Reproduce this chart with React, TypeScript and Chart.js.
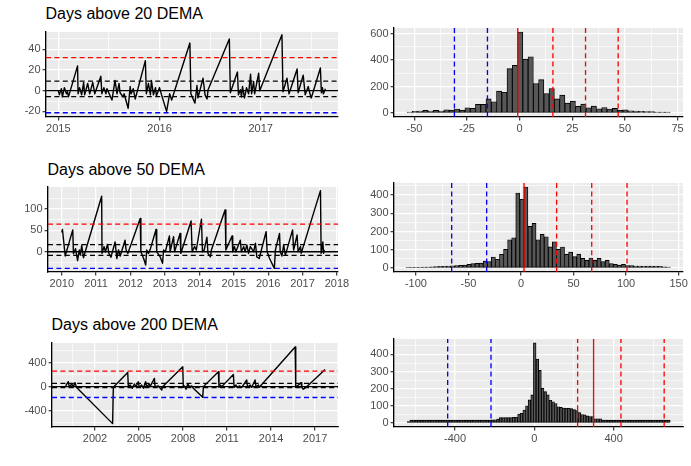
import { useEffect, useRef } from 'react';
import { Chart, registerables } from 'chart.js';

Chart.register(...registerables);

// ---------- Days above 20 DEMA (time series) ----------
const dema20Dates = [2015.00, 2015.01, 2015.03, 2015.04, 2015.06, 2015.08, 2015.09, 2015.10, 2015.19, 2015.195, 2015.21, 2015.23, 2015.25, 2015.26, 2015.29, 2015.31, 2015.34, 2015.36, 2015.42, 2015.43, 2015.45, 2015.47, 2015.48, 2015.53, 2015.56, 2015.58, 2015.60, 2015.61, 2015.64, 2015.65, 2015.69, 2015.71, 2015.72, 2015.74, 2015.76, 2015.86, 2015.87, 2015.89, 2015.91, 2015.92, 2015.94, 2015.96, 2015.97, 2016.00, 2016.02, 2016.07, 2016.10, 2016.12, 2016.30, 2016.31, 2016.35, 2016.37, 2016.38, 2016.43, 2016.45, 2016.47, 2016.48, 2016.69, 2016.70, 2016.77, 2016.78, 2016.80, 2016.81, 2016.82, 2016.84, 2016.86, 2016.88, 2016.90, 2016.91, 2016.93, 2016.94, 2016.98, 2016.99, 2017.21, 2017.22, 2017.26, 2017.28, 2017.36, 2017.37, 2017.42, 2017.44, 2017.47, 2017.49, 2017.50, 2017.59, 2017.60, 2017.61, 2017.62, 2017.64];
const dema20Values = [0, -4, 2, -6, 3, -3, -1, -6, 24, -3, 3, -4, 8, -4, 7, -3, 8, -3, 14, -3, 3, -3, 2, -9, 10, -3, 7, -2, -6, -3, -17, 4, -3, 2, -8, 29, -3, 7, -4, 10, -4, 3, -5, 3, -4, -20, -3, -9, 46, -3, -12, 5, -7, 12, -4, -8, 1, 50, -2, 18, -4, 1, -6, 4, -7, 3, -3, 16, -3, 9, -3, 17, 0, 54, -1, 12, -3, 21, -2, 15, -4, 4, -4, -7, 22, -2, 3, -3, 2];
const dema20RedLevels = [32];
const dema20BlackLevels = [9.3, -5.8];
const dema20BlueLevels = [-21.3];

// ---------- Days above 50 DEMA (time series) ----------
const dema50Dates = [2010.00, 2010.02, 2010.10, 2010.32, 2010.34, 2010.40, 2010.46, 2010.51, 2010.54, 2010.58, 2010.63, 2011.16, 2011.17, 2011.23, 2011.27, 2011.33, 2011.37, 2011.43, 2011.55, 2011.60, 2011.65, 2011.70, 2011.84, 2011.87, 2011.92, 2012.28, 2012.30, 2012.38, 2012.44, 2012.47, 2012.52, 2012.57, 2012.74, 2012.76, 2012.86, 2012.93, 2012.96, 2013.01, 2013.13, 2013.15, 2013.25, 2013.28, 2013.44, 2013.46, 2013.76, 2013.79, 2013.86, 2013.91, 2014.06, 2014.09, 2014.14, 2014.22, 2014.25, 2014.32, 2014.35, 2014.75, 2014.77, 2014.95, 2014.97, 2015.02, 2015.06, 2015.19, 2015.22, 2015.29, 2015.33, 2015.38, 2015.43, 2015.48, 2015.58, 2015.63, 2015.67, 2015.74, 2015.94, 2015.97, 2016.04, 2016.18, 2016.21, 2016.33, 2016.35, 2016.40, 2016.45, 2016.50, 2016.71, 2016.74, 2016.84, 2016.87, 2016.94, 2016.96, 2017.52, 2017.54, 2017.59, 2017.61, 2017.63];
const dema50Values = [45, 52, -10, 51, -5, 7, -21, 4, -8, 15, -14, 130, -4, 12, 0, 17, -4, -13, 23, -16, 4, -10, 27, 4, -4, 78, 0, -16, -31, 4, -4, 5, 52, 0, -12, -27, 4, 0, 37, 0, 35, 0, 43, -4, 72, 0, 12, 4, 76, 0, 4, 34, -4, -12, 4, 98, 4, 37, 0, 12, 0, 27, 0, 12, 0, 16, -4, 12, 0, 20, -12, -16, 47, 0, -16, -39, 4, 43, 0, -10, 16, -8, 51, 4, 39, 0, 12, -4, 143, -4, 23, -4, 5];
const dema50RedLevels = [64.5];
const dema50BlackLevels = [16.4, -8.6];
const dema50BlueLevels = [-39];

// ---------- Days above 200 DEMA (time series) ----------
const dema200Dates = [2000.00, 2000.18, 2000.25, 2000.41, 2000.52, 2000.64, 2000.73, 2003.20, 2003.25, 2004.23, 2004.27, 2004.39, 2004.55, 2004.68, 2004.80, 2004.95, 2005.02, 2005.18, 2005.30, 2005.45, 2005.52, 2005.70, 2005.75, 2006.05, 2006.09, 2006.32, 2006.55, 2006.61, 2007.98, 2008.02, 2008.09, 2008.20, 2008.32, 2008.43, 2008.59, 2008.70, 2009.34, 2009.39, 2010.41, 2010.45, 2010.52, 2010.64, 2011.43, 2011.48, 2011.61, 2011.70, 2011.84, 2012.00, 2012.34, 2012.39, 2012.57, 2012.68, 2012.91, 2012.98, 2013.14, 2013.20, 2015.64, 2015.68, 2015.86, 2016.05, 2016.09, 2016.20, 2016.39, 2016.48, 2017.68];
const dema200Values = [11, 82, -11, 44, 0, 66, -11, -614, -11, 236, 11, 27, -27, 44, 0, 82, -11, 27, -27, 82, 0, 44, 0, 137, 0, 11, -55, 0, 329, -11, 11, -44, 44, 0, 11, -27, -175, 0, 247, -11, 27, 0, 203, -11, 27, -11, 11, -11, 110, -11, 27, -11, 110, -11, 27, -11, 658, -11, 27, 66, -11, -44, -11, 11, 285];
const dema200RedLevels = [258];
const dema200BlackLevels = [55, -16];
const dema200BlueLevels = [-181];

// ---------- Histograms ----------
const hist20BinStart = -53.5;
const hist20BinWidth = 2.5;
const hist20Counts = [8, 12, 15, 20, 15, 20, 15, 25, 22, 30, 22, 40, 35, 65, 65, 107, 85, 165, 157, 335, 360, 612, 407, 425, 222, 252, 147, 185, 107, 135, 75, 90, 50, 67, 40, 52, 32, 42, 30, 35, 22, 25, 17, 15, 12, 10, 10, 8, 8, 8];
const hist20BlueLines = [-31, -15.3];
const hist20RedDashed = [15.8, 31.3, 46.8];
const hist20RedSolid = [-0.9];

const hist50BinStart = -109.5;
const hist50BinWidth = 3.87;
const hist50Counts = [3, 4, 4, 4, 5, 5, 7, 8, 9, 9, 11, 12, 13, 14, 16, 20, 24, 25, 27, 38, 35, 60, 48, 75, 102, 155, 166, 411, 377, 444, 228, 245, 155, 184, 171, 116, 144, 102, 115, 75, 87, 62, 76, 53, 42, 55, 42, 53, 35, 42, 24, 20, 16, 20, 13, 13, 11, 11, 9, 11, 11, 9, 9, 7, 5];
const hist50BlueLines = [-66, -32.7];
const hist50RedDashed = [33.9, 67.3, 100.9];
const hist50RedSolid = [2.9];

const hist200BinStart = -641.4;
const hist200BinWidth = 13.27;
const hist200Counts = [8, 17, 17, 17, 17, 17, 17, 17, 17, 17, 17, 17, 17, 17, 17, 17, 17, 17, 17, 17, 17, 17, 17, 17, 17, 17, 17, 17, 17, 17, 17, 17, 19, 19, 23, 32, 32, 32, 32, 32, 34, 34, 53, 57, 76, 101, 135, 164, 467, 373, 307, 202, 183, 164, 133, 124, 114, 95, 91, 88, 86, 86, 84, 78, 72, 61, 50, 48, 42, 38, 38, 25, 25, 25, 17, 17, 17, 17, 17, 17, 17, 17, 17, 17, 17, 17, 17, 17, 17, 17, 17, 17, 17, 17, 17, 17, 17, 17, 17, 17];
const hist200BlueLines = [-437, -218.5];
const hist200RedDashed = [218.5, 437, 655];
const hist200RedSolid = [299];

// ---------- Axis ticks ----------
const dema20XMajor = [2015, 2016, 2017];
const dema20XMinor = [2015.5, 2016.5, 2017.5];
const dema20YMajor = [-20, 0, 20, 40];
const dema20YMinor = [-10, 10, 30, 50];
const dema50XMajor = [2010, 2011, 2012, 2013, 2014, 2015, 2016, 2017, 2018];
const dema50XMinor = [2010.5, 2011.5, 2012.5, 2013.5, 2014.5, 2015.5, 2016.5, 2017.5];
const dema50YMajor = [0, 50, 100];
const dema50YMinor = [-25, 25, 75, 125];
const dema200XMajor = [2002, 2005, 2008, 2011, 2014, 2017];
const dema200XMinor = [2000.5, 2003.5, 2006.5, 2009.5, 2012.5, 2015.5, 2018.5];
const dema200YMajor = [-400, 0, 400];
const dema200YMinor = [-600, -200, 200, 600];
const hist20XMajor = [-50, -25, 0, 25, 50, 75];
const hist20XMinor = [-37.5, -12.5, 12.5, 37.5, 62.5];
const hist20YMajor = [0, 200, 400, 600];
const hist20YMinor = [100, 300, 500];
const hist50XMajor = [-100, -50, 0, 50, 100, 150];
const hist50XMinor = [-75, -25, 25, 75, 125];
const hist50YMajor = [0, 100, 200, 300, 400];
const hist50YMinor = [50, 150, 250, 350, 450];
const hist200XMajor = [-400, 0, 400];
const hist200XMinor = [-600, -200, 200, 600];
const hist200YMajor = [0, 100, 200, 300, 400];
const hist200YMinor = [50, 150, 250, 350, 450];

// ---------- Styling ----------
const FONT = '"Liberation Sans", Arial, Helvetica, sans-serif';
const TICK_TEXT = '#4D4D4D';
const PANEL_BG = '#EBEBEB';
const LW = 1.33;
const DASH = [5, 3.4];

const panelBg = {
  id: 'panelBg',
  beforeDraw(chart: any) {
    const { ctx, chartArea } = chart;
    if (!chartArea) return;
    ctx.save();
    ctx.fillStyle = PANEL_BG;
    ctx.fillRect(chartArea.left, chartArea.top, chartArea.right - chartArea.left, chartArea.bottom - chartArea.top);
    ctx.restore();
  },
};

function scale(kind: 'x' | 'y', min: number, max: number, majors: number[], minors: number[], size: number) {
  const isMajor = (v: number) => majors.some((m) => Math.abs(m - v) < 1e-9);
  return {
    type: 'linear',
    position: kind === 'x' ? 'bottom' : 'left',
    min,
    max,
    offset: false,
    afterBuildTicks: (s: any) => {
      s.ticks = [...majors, ...minors].sort((a, b) => a - b).map((v) => ({ value: v }));
    },
    afterFit: (s: any) => {
      if (kind === 'x') s.height = size;
      else s.width = size;
    },
    ticks: {
      autoSkip: false,
      maxRotation: 0,
      minRotation: 0,
      padding: kind === 'x' ? 1.5 : 2,
      color: TICK_TEXT,
      font: { family: FONT, size: 11 },
      callback: (v: any) => (isMajor(Number(v)) ? String(v) : ''),
    },
    grid: {
      offset: false,
      drawTicks: true,
      tickLength: 3.4,
      color: '#FFFFFF',
      lineWidth: (c: any) => (c.tick && isMajor(c.tick.value) ? 1.33 : 0.67),
      tickColor: (c: any) => (c.tick && isMajor(c.tick.value) ? '#333333' : 'rgba(0,0,0,0)'),
      tickWidth: 1.2,
    },
    border: { display: true, color: '#000000', width: 1.33 },
  };
}

function baseOptions(pad: { t: number; r: number }, x: any, y: any) {
  return {
    responsive: false,
    animation: false,
    events: [],
    layout: { padding: { left: 0, top: pad.t, right: pad.r, bottom: 0 } },
    plugins: { legend: { display: false }, tooltip: { enabled: false }, title: { display: false } },
    scales: { x, y },
  };
}

function hline(v: number, color: string, dashed: boolean, xMin: number, xMax: number) {
  return {
    type: 'line',
    data: [{ x: xMin, y: v }, { x: xMax, y: v }],
    borderColor: color,
    borderWidth: LW,
    borderDash: dashed ? DASH : [],
    pointRadius: 0,
    order: 0,
  };
}

function vline(v: number, color: string, dashed: boolean, yMin: number, yMax: number) {
  return {
    type: 'line',
    data: [{ x: v, y: yMin }, { x: v, y: yMax }],
    borderColor: color,
    borderWidth: LW,
    borderDash: dashed ? DASH : [],
    pointRadius: 0,
    order: 0,
  };
}

type Box = { x: number; y: number; w: number; h: number; padL: number; padT: number; padR: number; padB: number };

function lineConfig(box: Box, dates: number[], values: number[], red: number[], black: number[], blue: number[],
  xr: number[], yr: number[], xMaj: number[], xMin: number[], yMaj: number[], yMin: number[]) {
  const series = {
    type: 'line',
    data: dates.map((d, i) => ({ x: d, y: values[i] })),
    borderColor: '#000000',
    borderWidth: 1.4,
    pointRadius: 0,
    tension: 0,
    borderJoinStyle: 'round',
    order: 1,
  };
  const datasets: any[] = [
    series,
    hline(0, '#000000', false, xr[0], xr[1]),
    ...black.map((v) => hline(v, '#000000', true, xr[0], xr[1])),
    ...red.map((v) => hline(v, '#FF0000', true, xr[0], xr[1])),
    ...blue.map((v) => hline(v, '#0000FF', true, xr[0], xr[1])),
  ];
  return {
    type: 'line',
    data: { datasets },
    options: baseOptions({ t: box.padT, r: box.padR },
      scale('x', xr[0], xr[1], xMaj, xMin, box.padB),
      scale('y', yr[0], yr[1], yMaj, yMin, box.padL)),
    plugins: [panelBg],
  };
}

function histConfig(box: Box, start: number, width: number, counts: number[], blue: number[], redDashed: number[], redSolid: number[],
  xr: number[], yr: number[], xMaj: number[], xMin: number[], yMaj: number[], yMin: number[]) {
  const bars = {
    type: 'bar',
    data: counts.map((c, i) => ({ x: start + width * (i + 0.5), y: c })),
    backgroundColor: '#575757',
    borderColor: '#000000',
    borderWidth: 0.9,
    borderSkipped: false,
    barPercentage: 1,
    categoryPercentage: 1,
    order: 2,
  };
  const datasets: any[] = [
    bars,
    ...blue.map((v) => vline(v, '#0000FF', true, yr[0], yr[1])),
    ...redDashed.map((v) => vline(v, '#FF0000', true, yr[0], yr[1])),
    ...redSolid.map((v) => vline(v, '#FF0000', false, yr[0], yr[1])),
  ];
  const x: any = scale('x', xr[0], xr[1], xMaj, xMin, box.padB);
  return {
    type: 'bar',
    data: { datasets },
    options: baseOptions({ t: box.padT, r: box.padR }, x, scale('y', yr[0], yr[1], yMaj, yMin, box.padL)),
    plugins: [panelBg],
  };
}

const boxL20: Box = { x: 2, y: 22, w: 350, h: 115, padL: 44, padT: 10, padR: 14, padB: 20 };
const boxH20: Box = { x: 350, y: 18, w: 341, h: 119, padL: 44, padT: 10, padR: 8, padB: 20 };
const boxL50: Box = { x: 2, y: 177, w: 350, h: 115, padL: 46, padT: 10, padR: 14, padB: 20 };
const boxH50: Box = { x: 350, y: 173, w: 341, h: 119, padL: 44, padT: 10, padR: 8, padB: 20 };
const boxL200: Box = { x: 2, y: 333, w: 350, h: 114, padL: 50, padT: 10, padR: 14, padB: 20 };
const boxH200: Box = { x: 350, y: 329, w: 341, h: 118, padL: 44, padT: 10, padR: 8, padB: 20 };

const panels = [
  { key: 'l20', box: boxL20, build: () => lineConfig(boxL20, dema20Dates, dema20Values, dema20RedLevels, dema20BlackLevels, dema20BlueLevels, [2014.878, 2017.764], [-25.4, 56.7], dema20XMajor, dema20XMinor, dema20YMajor, dema20YMinor) },
  { key: 'h20', box: boxH20, build: () => histConfig(boxH20, hist20BinStart, hist20BinWidth, hist20Counts, hist20BlueLines, hist20RedDashed, hist20RedSolid, [-59.7, 77.6], [-30, 642], hist20XMajor, hist20XMinor, hist20YMajor, hist20YMinor) },
  { key: 'l50', box: boxL50, build: () => lineConfig(boxL50, dema50Dates, dema50Values, dema50RedLevels, dema50BlackLevels, dema50BlueLevels, [2009.6, 2018.03], [-47.5, 151.5], dema50XMajor, dema50XMinor, dema50YMajor, dema50YMinor) },
  { key: 'h50', box: boxH50, build: () => histConfig(boxH50, hist50BinStart, hist50BinWidth, hist50Counts, hist50BlueLines, hist50RedDashed, hist50RedSolid, [-120.9, 154.2], [-22, 466], hist50XMajor, hist50XMinor, hist50YMajor, hist50YMinor) },
  { key: 'l200', box: boxL200, build: () => lineConfig(boxL200, dema200Dates, dema200Values, dema200RedLevels, dema200BlackLevels, dema200BlueLevels, [1999.07, 2018.56], [-670, 724], dema200XMajor, dema200XMinor, dema200YMajor, dema200YMinor) },
  { key: 'h200', box: boxH200, build: () => histConfig(boxH200, hist200BinStart, hist200BinWidth, hist200Counts, hist200BlueLines, hist200RedDashed, hist200RedSolid, [-707.7, 750], [-23, 490], hist200XMajor, hist200XMinor, hist200YMajor, hist200YMinor) },
];

const titles = [
  { text: 'Days above 20 DEMA', left: 45.5, top: 5.8 },
  { text: 'Days above 50 DEMA', left: 47.5, top: 161.5 },
  { text: 'Days above 200 DEMA', left: 51.5, top: 317.2 },
];

function ChartCanvas({ box, build }: { box: Box; build: () => any }) {
  const ref = useRef<HTMLCanvasElement | null>(null);
  useEffect(() => {
    if (!ref.current) return;
    const chart = new Chart(ref.current, build());
    return () => chart.destroy();
  }, []);
  return (
    <canvas
      ref={ref}
      width={box.w}
      height={box.h}
      style={{ position: 'absolute', left: box.x, top: box.y, width: box.w, height: box.h, display: 'block' }}
    />
  );
}

export default function App() {
  return (
    <div style={{ position: 'absolute', left: 0, top: 0, width: 691, height: 466, overflow: 'hidden', background: '#FFFFFF' }}>
      {titles.map((t) => (
        <div
          key={t.text}
          style={{
            position: 'absolute',
            left: t.left,
            top: t.top,
            font: `16px ${FONT}`,
            lineHeight: '16px',
            color: '#000000',
            whiteSpace: 'nowrap',
          }}
        >
          {t.text}
        </div>
      ))}
      {panels.map((p) => (
        <ChartCanvas key={p.key} box={p.box} build={p.build} />
      ))}
    </div>
  );
}
